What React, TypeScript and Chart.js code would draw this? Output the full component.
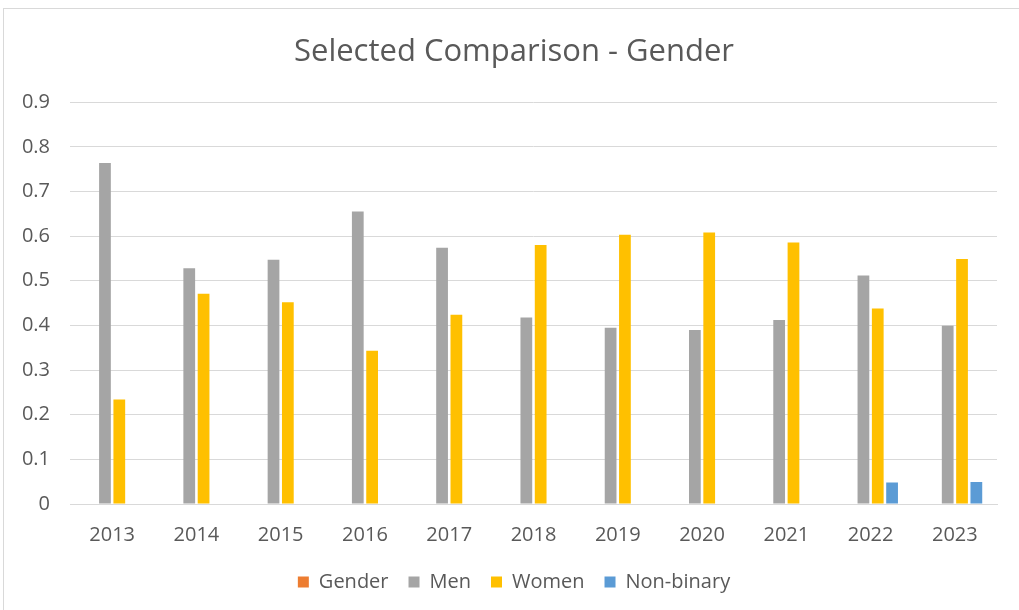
import React, { useEffect, useRef } from "react";
import { Chart, registerables } from "chart.js";

Chart.register(...registerables);

const categories = ["2013", "2014", "2015", "2016", "2017", "2018", "2019", "2020", "2021", "2022", "2023"];
const genderValues: (number | null)[] = [null, null, null, null, null, null, null, null, null, null, null];
const menValues = [0.764, 0.528, 0.547, 0.655, 0.574, 0.418, 0.395, 0.39, 0.412, 0.512, 0.399];
const womenValues = [0.234, 0.471, 0.452, 0.343, 0.424, 0.58, 0.603, 0.608, 0.586, 0.438, 0.549];
const nonBinaryValues: (number | null)[] = [null, null, null, null, null, null, null, null, null, 0.048, 0.0495];
const yTicks = [0, 0.1, 0.2, 0.3, 0.4, 0.5, 0.6, 0.7, 0.8, 0.9];

const FONT = "'Open Sans', sans-serif";
const TEXT = "#595959";

export default function App() {
  const ref = useRef<HTMLCanvasElement | null>(null);
  useEffect(() => {
    document.body.style.margin = "0";
    const ctx = ref.current!;
    const chart = new Chart(ctx, {
      type: "bar",
      data: {
        labels: categories,
        datasets: [
          { label: "Gender", data: genderValues, backgroundColor: "#ED7D31" },
          { label: "Men", data: menValues, backgroundColor: "#A5A5A5" },
          { label: "Women", data: womenValues, backgroundColor: "#FFC000" },
          { label: "Non-binary", data: nonBinaryValues, backgroundColor: "#5B9BD5" },
        ],
      },
      options: {
        animation: false,
        responsive: false,
        maintainAspectRatio: false,
        datasets: { bar: { categoryPercentage: 0.68, barPercentage: 0.82 } },
        layout: { padding: { left: 28, right: 28, top: 0, bottom: 8 } },
        plugins: {
          title: {
            display: true,
            text: "Selected Comparison - Gender",
            color: TEXT,
            font: { family: FONT, size: 31, weight: "normal" },
            padding: { top: 34, bottom: 31 },
          },
          legend: {
            position: "bottom",
            labels: {
              color: TEXT,
              font: { family: FONT, size: 20 },
              boxWidth: 11,
              boxHeight: 11,
              padding: 20,
            },
          },
          tooltip: { enabled: false },
        },
        scales: {
          x: {
            grid: { display: false, drawTicks: false },
            border: { display: true, color: "#D9D9D9", width: 1 },
            ticks: { color: TEXT, font: { family: FONT, size: 20 }, padding: 19 },
            afterFit: (s: any) => { s.height = 48; },
          },
          y: {
            min: 0,
            max: 0.9,
            afterBuildTicks: (s: any) => { s.ticks = yTicks.map((v) => ({ value: v })); },
            grid: { color: "#D9D9D9", lineWidth: 1, drawTicks: false },
            border: { display: false },
            ticks: {
              color: TEXT,
              font: { family: FONT, size: 20 },
              padding: 20,
              callback: (v: any) => String(Math.round(Number(v) * 10) / 10),
            },
            afterFit: (s: any) => {
              s.width = 39;
              s._computeLabelArea = () => undefined;
            },
          },
        },
      },
    });
    return () => chart.destroy();
  }, []);
  return (
    <div style={{ position: "relative", width: 1019, height: 610, overflow: "hidden", background: "#fff" }}>
      <div style={{ position: "absolute", left: 3, top: 8, width: 1040, height: 640, border: "1px solid #D9D9D9", boxSizing: "border-box" }} />
      <canvas ref={ref} width={1022} height={610} style={{ position: "absolute", left: 3, top: 0 }} />
    </div>
  );
}
